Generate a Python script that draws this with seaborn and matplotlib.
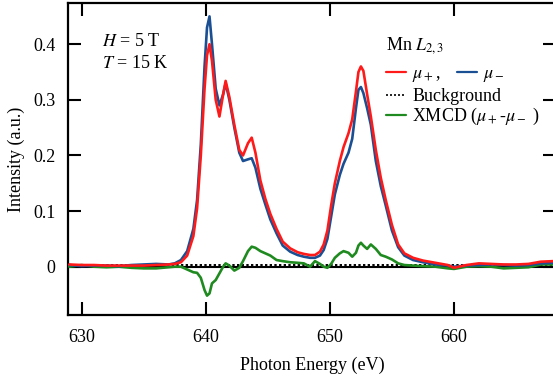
import numpy as np
import pandas as pd
import seaborn as sns
import matplotlib.pyplot as plt
from matplotlib.lines import Line2D

# photon energy (eV) and intensities
energy = [629, 630, 631, 632, 633, 634, 635, 636, 637, 637.5, 638, 638.5, 639, 639.3, 639.6,
          639.9, 640.1, 640.3, 640.5, 640.8, 641.1, 641.4, 641.6, 641.9, 642.3, 642.7, 643.0,
          643.4, 643.7, 644.0, 644.4, 644.8, 645.2, 645.7, 646.2, 646.8, 647.4, 647.9, 648.4,
          648.8, 649.2, 649.5, 649.8, 650.1, 650.4, 650.8, 651.1, 651.5, 651.8, 652.1, 652.3,
          652.5, 652.7, 653.0, 653.3, 653.7, 654.1, 654.5, 655.0, 655.5, 656.0, 656.7, 657.5,
          658.5, 659.5, 660.0, 661, 662, 663, 664, 665, 666, 667, 668]

mu_plus = [0.004, 0.003, 0.003, 0.002, 0.002, 0.002, 0.002, 0.003, 0.004, 0.005, 0.008, 0.02,
           0.055, 0.105, 0.2, 0.32, 0.38, 0.40, 0.37, 0.30, 0.27, 0.31, 0.334, 0.305, 0.255, 0.21,
           0.20, 0.222, 0.232, 0.205, 0.155, 0.122, 0.095, 0.068, 0.045, 0.033, 0.026, 0.023, 0.021,
           0.021, 0.027, 0.04, 0.065, 0.11, 0.15, 0.19, 0.215, 0.24, 0.265, 0.315, 0.35, 0.36, 0.352,
           0.31, 0.27, 0.21, 0.16, 0.12, 0.075, 0.04, 0.024, 0.016, 0.011, 0.007, 0.003, -0.002,
           0.003, 0.006, 0.005, 0.004, 0.004, 0.005, 0.009, 0.01]

mu_minus = [0.003, 0.001, 0.002, 0.002, 0.001, 0.003, 0.004, 0.005, 0.004, 0.006, 0.012, 0.028,
            0.068, 0.12, 0.22, 0.36, 0.43, 0.45, 0.40, 0.32, 0.29, 0.31, 0.33, 0.30, 0.25, 0.205,
            0.19, 0.193, 0.195, 0.178, 0.14, 0.112, 0.085, 0.06, 0.038, 0.027, 0.021, 0.018,
            0.016, 0.016, 0.02, 0.03, 0.05, 0.09, 0.13, 0.165, 0.185, 0.205, 0.23, 0.285, 0.318,
            0.323, 0.312, 0.285, 0.255, 0.19, 0.145, 0.11, 0.065, 0.035, 0.02, 0.012, 0.008,
            0.004, 0.002, 0.0, 0.002, 0.003, 0.004, 0.003, 0.002, 0.003, 0.006, 0.007]

xmcd = [0.0, 0.003, 0.0, -0.001, 0.0, -0.002, -0.003, -0.003, -0.001, 0.0, 0.0, -0.005, -0.01,
        -0.011, -0.02, -0.042, -0.052, -0.048, -0.03, -0.024, -0.012, 0.0, 0.006, 0.002, -0.007,
        -0.002, 0.01, 0.028, 0.036, 0.034, 0.028, 0.024, 0.02, 0.012, 0.01, 0.008, 0.007, 0.006,
        0.0, 0.01, 0.005, 0.0, -0.002, 0.005, 0.016, 0.024, 0.028, 0.025, 0.018, 0.025, 0.038,
        0.043, 0.038, 0.032, 0.04, 0.032, 0.021, 0.018, 0.013, 0.006, 0.003, 0.002, 0.001, 0.0,
        -0.003, -0.004, 0.0, 0.001, 0.0, -0.003, -0.002, -0.001, 0.004, 0.004]

bg_energy = [629, 668]
background = [0.003, 0.003]

df = pd.DataFrame({"E": energy, "mu_plus": mu_plus, "mu_minus": mu_minus, "xmcd": xmcd})

sns.set_style("ticks")
plt.rcParams['font.family'] = ['Liberation Serif', 'DejaVu Serif']
plt.rcParams['mathtext.fontset'] = 'stix'
plt.rcParams['text.color'] = 'black'
plt.rcParams['axes.labelcolor'] = 'black'
plt.rcParams['xtick.color'] = 'black'
plt.rcParams['ytick.color'] = 'black'

fs = 13

fig = plt.figure(figsize=(5.53, 3.81), dpi=100)
ax = fig.add_axes([0.123, 0.173, 0.882, 0.819])

red = "#ff1a1a"
blue = "#1b4f93"
green = "#1f8a1f"

ax.axhline(0, color="black", lw=1.5, zorder=1)
sns.lineplot(x=bg_energy, y=background, color="black", lw=1.4, linestyle=(0, (1.2, 1.2)), ax=ax, zorder=2)
sns.lineplot(data=df, x="E", y="xmcd", color=green, lw=1.9, ax=ax, zorder=3)
sns.lineplot(data=df, x="E", y="mu_minus", color=blue, lw=1.9, ax=ax, zorder=4)
sns.lineplot(data=df, x="E", y="mu_plus", color=red, lw=1.9, ax=ax, zorder=5)

ax.set_xlim(628.9, 668.2)
ax.set_ylim(-0.087, 0.474)
ax.set_xticks([630, 640, 650, 660])
ax.set_yticks([0, 0.1, 0.2, 0.3, 0.4])
ax.set_yticklabels(["0", "0.1", "0.2", "0.3", "0.4"])
ax.tick_params(direction="in", length=9.5, width=1.5, labelsize=fs, pad=9,
               top=True, right=True)
ax.tick_params(axis="x", pad=10)
for s in ax.spines.values():
    s.set_linewidth(1.6)
    s.set_color("black")

ax.set_xlabel("Photon Energy (eV)", fontsize=fs, labelpad=8)
ax.set_ylabel("Intensity (a.u.)", fontsize=fs, labelpad=6)

ax.text(631.6, 0.404, "$H$ = 5 T", fontsize=fs, va="center")
ax.text(631.6, 0.366, "$T$ = 15 K", fontsize=fs, va="center")

h_plus = Line2D([], [], color=red, lw=1.6)
h_minus = Line2D([], [], color=blue, lw=1.6)
h_bg = Line2D([], [], color="black", lw=1.2, linestyle=(0, (1.2, 1.2)))
h_xm = Line2D([], [], color=green, lw=1.6)

leg1 = ax.legend([h_plus, h_minus], [r"$\mu_+$,", r"$\mu_-$"], ncol=2, title=r"Mn $L_{2,3}$",
                 loc="upper left", bbox_to_anchor=(0.652, 0.897), frameon=False,
                 fontsize=fs, title_fontsize=fs, borderpad=0, borderaxespad=0,
                 handlelength=1.1, handletextpad=0.35, columnspacing=0.9, alignment="left")
ax.add_artist(leg1)
ax.legend([h_bg, h_xm], ["Buckground", r"XMCD ($\mu_+$-$\mu_-$ )"],
          loc="upper left", bbox_to_anchor=(0.652, 0.728), frameon=False,
          fontsize=fs, borderpad=0, borderaxespad=0, handlelength=1.1,
          handletextpad=0.35, labelspacing=0.05)

fig.savefig("out.png", dpi=100)
